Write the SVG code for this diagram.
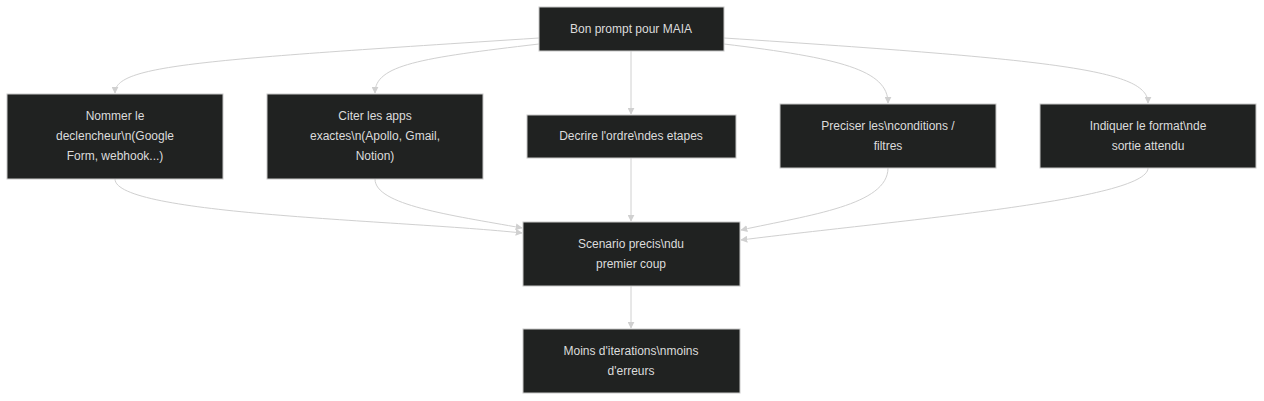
<svg xmlns="http://www.w3.org/2000/svg" width="1264" height="401" viewBox="0 0 1264 401">
<style>
.n rect{fill:#202221;stroke:#c8c8c8;stroke-width:1}
.n text{font-family:"Liberation Sans",Arial,sans-serif;font-size:12px;fill:#dcdcdc;text-anchor:middle}
.e path{fill:none;stroke:#d0d0d0;stroke-width:1;marker-end:url(#a)}
</style>
<defs><marker id="a" viewBox="0 0 10 10" refX="9" refY="5" markerWidth="7" markerHeight="7" orient="auto"><path d="M0,0L10,5L0,10z" fill="#d0d0d0"/></marker></defs>
<rect width="1264" height="401" fill="#fff"/>
<g class="e">
<path d="M539,38 C200,60 115,65 115,93"/>
<path d="M539,44 C420,58 375,65 375,93"/>
<path d="M631,51 L631,114"/>
<path d="M724,44 C840,58 888,70 888,103"/>
<path d="M724,38 C1060,60 1148,70 1148,103"/>
<path d="M115,179 C115,215 400,220 522,233"/>
<path d="M375,179 C375,205 450,215 522,228"/>
<path d="M631,158 L631,221"/>
<path d="M888,168 C888,205 810,215 741,230"/>
<path d="M1148,168 C1148,200 900,220 741,240"/>
<path d="M631,286 L631,328"/>
</g>
<g id="top" class="n"><rect x="539" y="7" width="185" height="44"/><text x="631" y="33">Bon prompt pour MAIA</text></g>
<g id="n1" class="n"><rect x="7" y="94" width="216" height="85"/><text x="115" y="120">Nommer le</text><text x="115" y="140">declencheur\n(Google</text><text x="115" y="160">Form, webhook...)</text></g>
<g id="n2" class="n"><rect x="267" y="94" width="216" height="85"/><text x="375" y="120">Citer les apps</text><text x="375" y="140">exactes\n(Apollo, Gmail,</text><text x="375" y="160">Notion)</text></g>
<g id="n3" class="n"><rect x="527" y="115" width="209" height="43"/><text x="631" y="140">Decrire l'ordre\ndes etapes</text></g>
<g id="n4" class="n"><rect x="780" y="104" width="216" height="64"/><text x="888" y="130">Preciser les\nconditions /</text><text x="888" y="150">filtres</text></g>
<g id="n5" class="n"><rect x="1040" y="104" width="216" height="64"/><text x="1148" y="130">Indiquer le format\nde</text><text x="1148" y="150">sortie attendu</text></g>
<g id="s" class="n"><rect x="523" y="222" width="217" height="64"/><text x="631" y="248">Scenario precis\ndu</text><text x="631" y="268">premier coup</text></g>
<g id="m" class="n"><rect x="523" y="329" width="217" height="64"/><text x="631" y="355">Moins d'iterations\nmoins</text><text x="631" y="375">d'erreurs</text></g>
</svg>
